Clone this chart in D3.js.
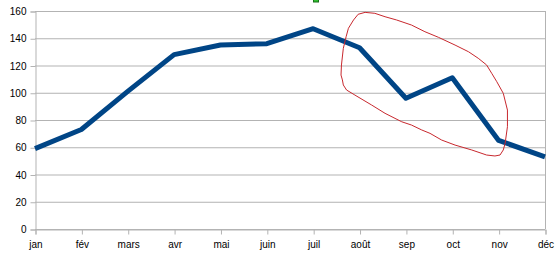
<!DOCTYPE html>
<html>
<head>
<meta charset="utf-8">
<script src="https://cdn.jsdelivr.net/npm/d3@7"></script>
<style>
  body { margin: 0; background: #fff; }
  text { font-family: "Liberation Sans", Arial, sans-serif; font-size: 10px; fill: #000; }
</style>
</head>
<body>
<div id="chart"></div>
<script>
// months on the category axis
var months = ['jan', 'fév', 'mars', 'avr', 'mai', 'juin', 'juil', 'août', 'sep', 'oct', 'nov', 'déc'];
// series values
var values = [59, 73, 101, 128, 135, 136, 147, 133, 96, 111, 65, 53];
var yTicks = [0, 20, 40, 60, 80, 100, 120, 140, 160];
// hand drawn red loop, as [month index, value]
var loopPts = [
  [6.97, 157.6], [7.12, 159.0], [7.33, 158.3], [7.55, 155.8], [7.80, 153.4], [8.12, 149.7],
  [8.41, 144.8], [8.70, 140.7], [9.06, 135.0], [9.35, 130.1], [9.56, 125.3], [9.74, 120.4],
  [9.85, 114.3], [9.96, 108.1], [10.10, 99.6], [10.19, 87.3], [10.19, 75.1], [10.14, 62.9],
  [10.10, 58.0], [10.03, 54.3], [9.92, 53.6], [9.74, 54.3], [9.42, 58.0], [9.06, 61.6],
  [8.77, 65.3], [8.52, 70.2], [8.34, 72.7], [8.12, 76.3], [7.91, 78.7], [7.55, 84.9],
  [7.26, 91.0], [6.90, 98.3], [6.72, 102.0], [6.65, 105.7], [6.63, 109.4], [6.60, 113.0],
  [6.61, 120.4], [6.65, 132.6], [6.71, 141.1], [6.76, 147.3], [6.87, 153.4], [6.97, 157.6]
];

var width = 559, height = 258;
var plotL = 35, plotR = 545, plotT = 11, plotB = 229;

var svg = d3.select('#chart')
  .append('svg')
  .attr('width', width)
  .attr('height', height);

var x = d3.scalePoint()
  .domain(d3.range(months.length))
  .range([plotL, plotR]);

var y = d3.scaleLinear()
  .domain([0, 160])
  .range([plotB, plotT]);

// grid lines
svg.append('g')
  .selectAll('line')
  .data(yTicks)
  .enter()
  .append('line')
  .attr('x1', plotL)
  .attr('x2', plotR)
  .attr('y1', function (d) { return y(d) + 0.5; })
  .attr('y2', function (d) { return y(d) + 0.5; })
  .attr('stroke', '#b3b3b3')
  .attr('stroke-width', 1);

// right border of plot area
svg.append('line')
  .attr('x1', plotR + 0.5)
  .attr('x2', plotR + 0.5)
  .attr('y1', plotT)
  .attr('y2', plotB)
  .attr('stroke', '#b3b3b3');

// y axis
var yAxis = svg.append('g')
  .attr('transform', 'translate(' + (plotL + 0.5) + ',0.5)')
  .call(d3.axisLeft(y).tickValues(yTicks).tickSize(5).tickPadding(4));

// x axis
var xAxis = svg.append('g')
  .attr('transform', 'translate(0.5,' + (plotB + 0.5) + ')')
  .call(d3.axisBottom(x).tickSize(5).tickPadding(6)
    .tickFormat(function (i) { return months[i]; }));

[yAxis, xAxis].forEach(function (ax) {
  ax.select('.domain').attr('stroke', '#b3b3b3');
  ax.selectAll('.tick line').attr('stroke', '#b3b3b3');
  ax.selectAll('text')
    .attr('fill', '#000')
    .style('font-family', '"Liberation Sans", Arial, sans-serif')
    .style('font-size', '10px');
});

// data line
var line = d3.line()
  .x(function (d, i) { return x(i); })
  .y(function (d) { return y(d); });

svg.append('path')
  .datum(values)
  .attr('d', line)
  .attr('fill', 'none')
  .attr('stroke', '#004586')
  .attr('stroke-width', 5)
  .attr('stroke-linejoin', 'round');

// red freehand loop
var loopLine = d3.line()
  .x(function (d) { return x(0) + d[0] * x.step(); })
  .y(function (d) { return y(d[1]); });

svg.append('path')
  .datum(loopPts)
  .attr('d', loopLine)
  .attr('fill', 'none')
  .attr('stroke', '#c8282e')
  .attr('stroke-width', 1);

// clipped legend marker at the top
svg.append('rect')
  .attr('x', 313.5)
  .attr('y', -3)
  .attr('width', 5)
  .attr('height', 5)
  .attr('fill', '#2fc12f')
  .attr('stroke', '#1a6e1a')
  .attr('stroke-width', 1);
</script>
</body>
</html>
